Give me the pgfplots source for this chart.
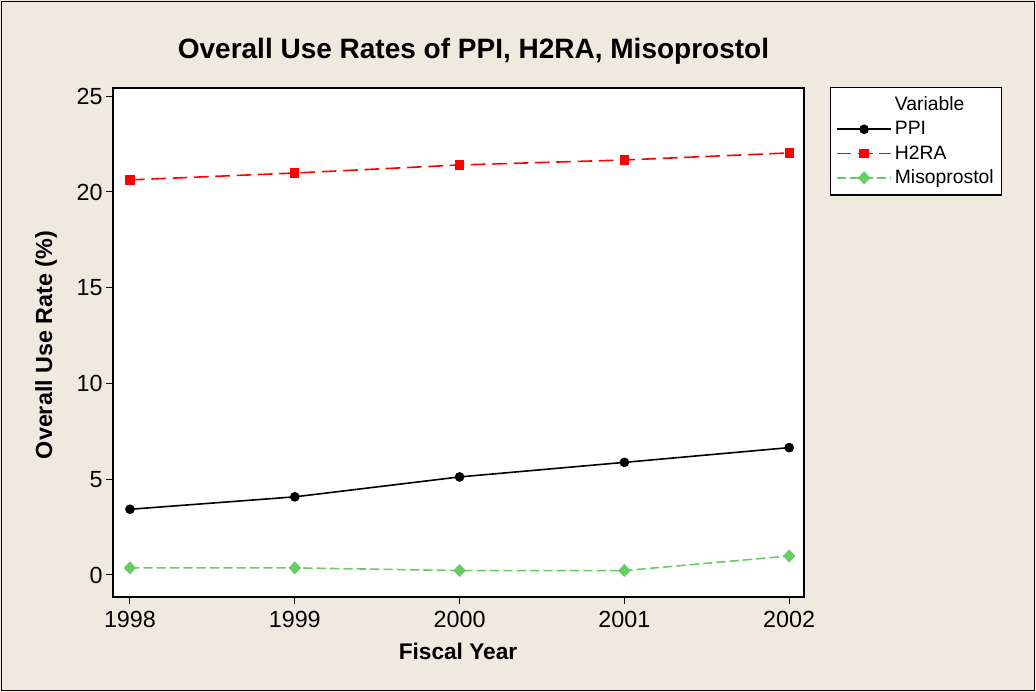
\documentclass[border=0pt]{standalone}
\usepackage{fontspec}
\setmainfont{Liberation Sans}
\usepackage{pgfplots}
\pgfplotsset{compat=1.18}
\definecolor{bg}{HTML}{EEEAE0}
\definecolor{mgreen}{HTML}{66CC66}
\begin{document}
\begin{tikzpicture}[x=0.75pt,y=0.75pt]
\fill[bg] (0,0) rectangle (1036,692);
\draw[line width=0.9pt] (1.5,1.5) rectangle (1034.5,690.5);
\begin{axis}[
  at={(84.75pt,71.25pt)}, anchor=south west,
  scale only axis, width=518.25pt, height=381.75pt,
  xmin=1997.897, xmax=2002.09, ymin=-1.15, ymax=25.43,
  xtick={1998,1999,2000,2001,2002}, ytick={0,5,10,15,20,25},
  xticklabel style={/pgf/number format/1000 sep={}, yshift=-2pt},
  /pgf/number format/assume math mode=true,
  tick label style={font=\fontsize{17.5}{20}\selectfont, black},
  yticklabel style={xshift=1pt},
  tick align=outside, xtick pos=bottom, ytick pos=left,
  major tick length=5.25pt,
  tick style={black, line width=0.75pt},
  axis line style={black, line width=1pt},
  axis background/.style={fill=white},
  legend style={at={(1.0376,1.002)}, anchor=north west, draw=black, line width=1pt,
    fill=white, font=\fontsize{14.5}{17}\selectfont, row sep=2.5pt, inner xsep=4pt, inner ysep=5pt,
    /tikz/every even column/.append style={column sep=7pt}},
  legend cell align=left,
  legend image code/.code={\draw[mark repeat=2,mark phase=2,#1] plot coordinates {(0cm,0cm) (0.72cm,0cm) (1.44cm,0cm)};},
]
\addlegendimage{empty legend}
\addlegendentry{Variable}
\addplot[black, line width=1.2pt, mark=*, mark size=3pt, mark options={solid}]
  coordinates {(1998,3.43) (1999,4.08) (2000,5.12) (2001,5.88) (2002,6.65)};
\addlegendentry{PPI}
\addplot[red, line width=1.2pt, dash pattern=on 11pt off 5pt, mark=square*, mark size=2.9pt, mark options={solid}]
  coordinates {(1998,20.63) (1999,20.99) (2000,21.41) (2001,21.67) (2002,22.04)};
\addlegendentry{H2RA}
\addplot[mgreen, line width=1.2pt, dash pattern=on 7pt off 3pt, mark=diamond*, mark size=4pt, mark options={solid, xscale=1.3}]
  coordinates {(1998,0.37) (1999,0.37) (2000,0.23) (2001,0.23) (2002,0.99)};
\addlegendentry{Misoprostol}
\end{axis}
\node[font=\bfseries\fontsize{21}{25}\selectfont] at (473.5,641) {Overall Use Rates of PPI, H2RA, Misoprostol};
\node[font=\bfseries\fontsize{17}{20}\selectfont] at (458,41) {Fiscal Year};
\node[rotate=90, font=\bfseries\fontsize{17.5}{20}\selectfont] at (46,347) {Overall Use Rate (\%)};
\end{tikzpicture}
\end{document}
